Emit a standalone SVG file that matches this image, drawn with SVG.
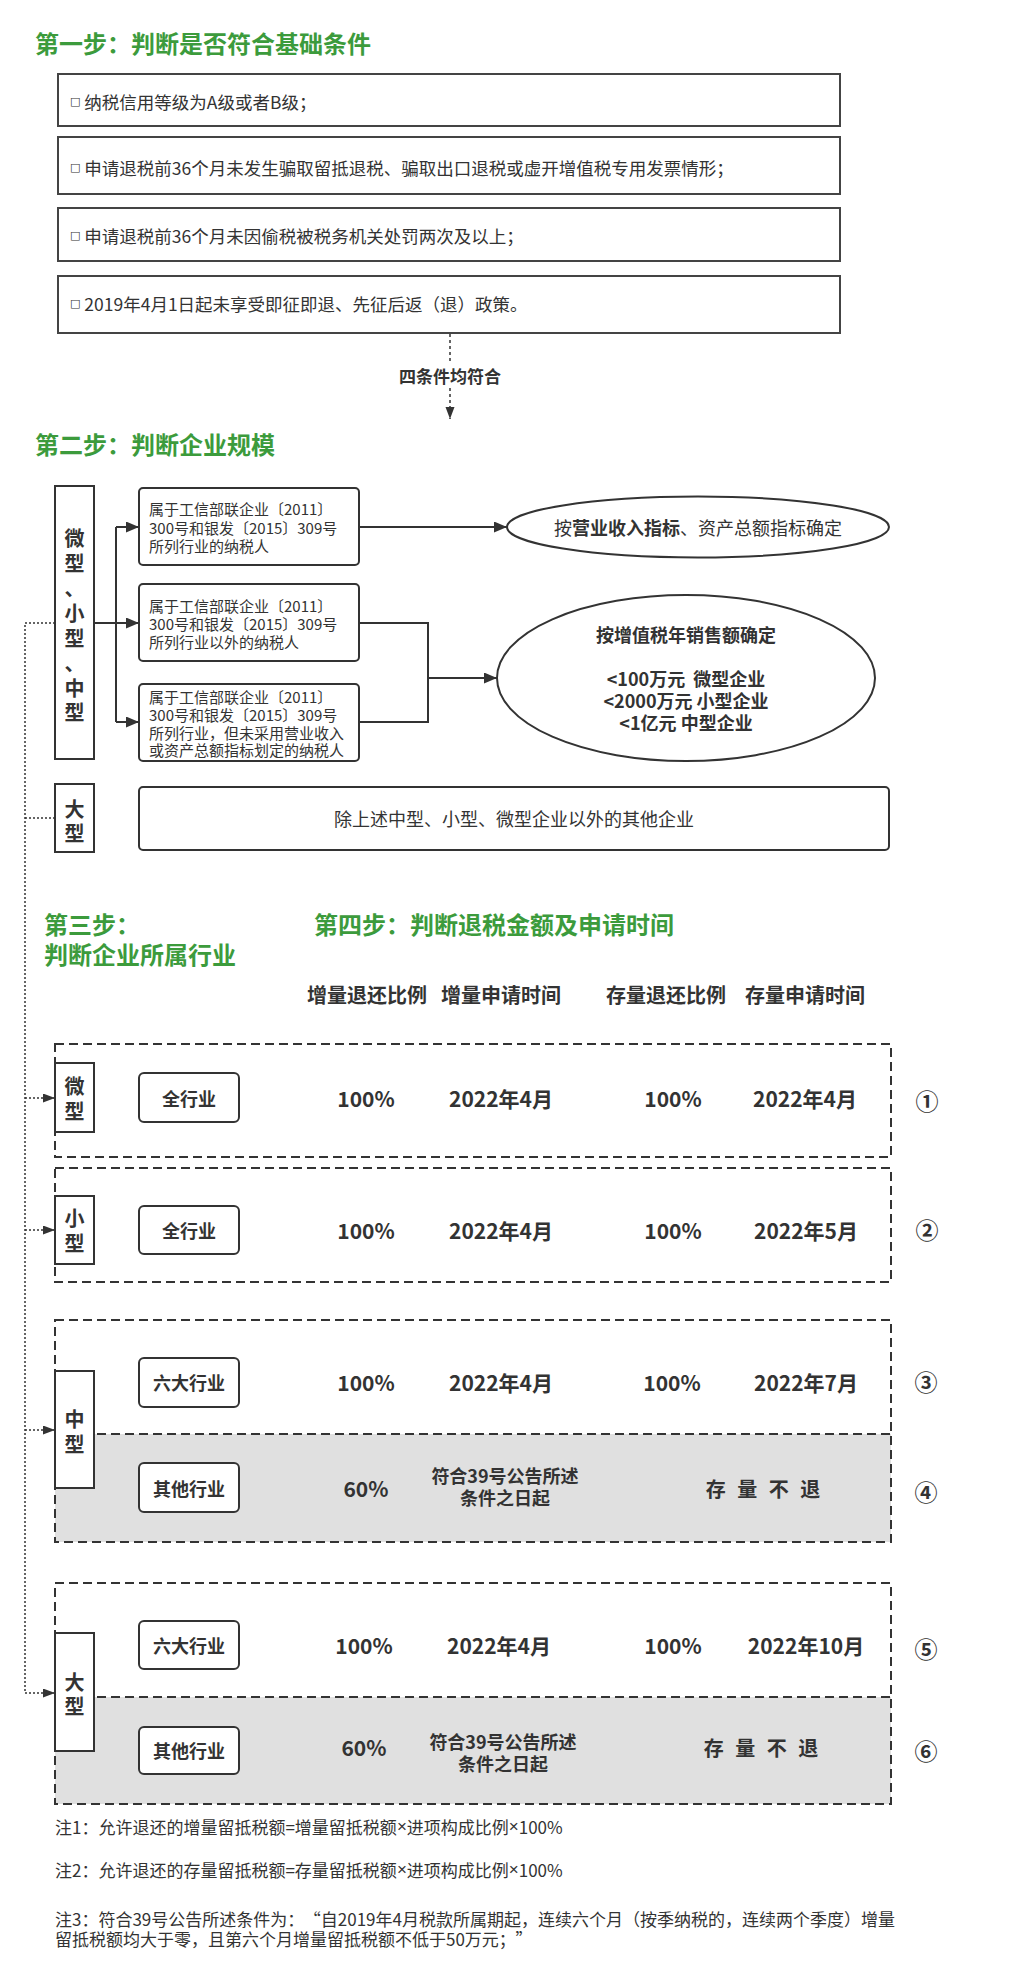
<svg xmlns="http://www.w3.org/2000/svg" width="1010" height="1986" viewBox="0 0 1010 1986">
<style>
text { font-family: "Noto Sans CJK SC", "Noto Sans", sans-serif; fill: #333; dominant-baseline: central; }
.title { font-size: 24px; font-weight: bold; fill: #3c9b3c; }
.s1 { font-size: 17.5px; }
.sq { font-family: "DejaVu Sans", sans-serif; font-size: 11px; }
.sbox { font-size: 15px; }
.b { font-weight: bold; }
.c { text-anchor: middle; }
.f18 { font-size: 18px; }
.f20 { font-size: 20px; }
.val { font-size: 21px; font-weight: bold; text-anchor: middle; }
.num { font-size: 23px; font-weight: bold; text-anchor: middle; }
.note { font-size: 17px; }
.x { font-family: "Liberation Sans", sans-serif; }
.box { fill: #fff; stroke: #333; stroke-width: 2; }
.box1 { fill: #fff; stroke: #444; stroke-width: 2; }
.dash { fill: none; stroke: #333; stroke-width: 2; stroke-dasharray: 9 5; }
.gray { fill: #e0e0e0; stroke: none; }
.line { fill: none; stroke: #333; stroke-width: 2; }
.dot { fill: none; stroke: #333; stroke-width: 1.5; stroke-dasharray: 2 2; }
.dsh { fill: none; stroke: #333; stroke-width: 1.5; stroke-dasharray: 3 3; }
</style>
<defs>
<marker id="ah" markerUnits="userSpaceOnUse" markerWidth="14" markerHeight="11" refX="13" refY="5.5" orient="auto">
<path d="M0,0 L13,5.5 L0,11 z" fill="#333"/>
</marker>
<marker id="ahs" markerUnits="userSpaceOnUse" markerWidth="13" markerHeight="10" refX="12" refY="4.5" orient="auto">
<path d="M0,0 L12,4.5 L0,9 z" fill="#333"/>
</marker>
</defs>
<rect width="1010" height="1986" fill="#fff"/>

<!-- Titles -->
<g id="titles">
<text class="title" x="35" y="42">第一步：判断是否符合基础条件</text>
<text class="title" x="35" y="443">第二步：判断企业规模</text>
<text class="title" x="44" y="923">第三步：</text>
<text class="title" x="44" y="953">判断企业所属行业</text>
<text class="title" x="314" y="923">第四步：判断退税金额及申请时间</text>
</g>

<!-- Step 1 -->
<g id="cond1">
<rect class="box1" x="58" y="74" width="782" height="52"/>
<text class="s1" x="70" y="101"><tspan class="sq">□</tspan> 纳税信用等级为A级或者B级；</text>
</g>
<g id="cond2">
<rect class="box1" x="58" y="137" width="782" height="57"/>
<text class="s1" x="70" y="167"><tspan class="sq">□</tspan> 申请退税前36个月未发生骗取留抵退税、骗取出口退税或虚开增值税专用发票情形；</text>
</g>
<g id="cond3">
<rect class="box1" x="58" y="208" width="782" height="53"/>
<text class="s1" x="70" y="235"><tspan class="sq">□</tspan> 申请退税前36个月未因偷税被税务机关处罚两次及以上；</text>
</g>
<g id="cond4">
<rect class="box1" x="58" y="276" width="782" height="57"/>
<text class="s1" x="70" y="303"><tspan class="sq">□</tspan> 2019年4月1日起未享受即征即退、先征后返（退）政策。</text>
</g>

<!-- Step 2 -->
<g id="smeBox">
<rect class="box" x="55" y="486" width="39" height="273"/>
<text class="f20 b c" x="74.5" y="537">微</text>
<text class="f20 b c" x="74.5" y="562">型</text>
<text class="f20 b c" x="74.5" y="587">、</text>
<text class="f20 b c" x="74.5" y="612">小</text>
<text class="f20 b c" x="74.5" y="637">型</text>
<text class="f20 b c" x="74.5" y="662">、</text>
<text class="f20 b c" x="74.5" y="687">中</text>
<text class="f20 b c" x="74.5" y="711">型</text>
</g>
<g id="bigBox">
<rect class="box" x="55" y="784" width="39" height="68"/>
<text class="f20 b c" x="74.5" y="808">大</text>
<text class="f20 b c" x="74.5" y="832">型</text>
</g>
<g id="catA">
<rect class="box" x="139" y="488" width="220" height="77" rx="4"/>
<text class="sbox" x="149" y="508">属于工信部联企业〔2011〕</text>
<text class="sbox" x="149" y="527">300号和银发〔2015〕309号</text>
<text class="sbox" x="149" y="545">所列行业的纳税人</text>
</g>
<g id="catB">
<rect class="box" x="139" y="584" width="220" height="77" rx="4"/>
<text class="sbox" x="149" y="605">属于工信部联企业〔2011〕</text>
<text class="sbox" x="149" y="623">300号和银发〔2015〕309号</text>
<text class="sbox" x="149" y="641">所列行业以外的纳税人</text>
</g>
<g id="catC">
<rect class="box" x="139" y="684" width="220" height="77" rx="4"/>
<text class="sbox" x="149" y="696">属于工信部联企业〔2011〕</text>
<text class="sbox" x="149" y="714">300号和银发〔2015〕309号</text>
<text class="sbox" x="149" y="732">所列行业，但未采用营业收入</text>
<text class="sbox" x="149" y="749">或资产总额指标划定的纳税人</text>
</g>
<g id="ellipse1">
<ellipse cx="698" cy="527" rx="191" ry="30.5" fill="#fff" stroke="#333" stroke-width="2"/>
<text class="f18 c" x="698" y="527">按<tspan class="b">营业收入指标</tspan>、资产总额指标确定</text>
</g>
<g id="ellipse2">
<ellipse cx="686" cy="678" rx="189" ry="83" fill="#fff" stroke="#333" stroke-width="2"/>
<text class="f18 b c" x="686" y="634">按增值税年销售额确定</text>
<text class="f18 b c" x="686" y="678" xml:space="preserve">&lt;100万元  微型企业</text>
<text class="f18 b c" x="686" y="700">&lt;2000万元 小型企业</text>
<text class="f18 b c" x="686" y="722">&lt;1亿元 中型企业</text>
</g>
<g id="otherBox">
<rect class="box" x="139" y="787" width="750" height="63" rx="4"/>
<text class="f18 c" x="514" y="818">除上述中型、小型、微型企业以外的其他企业</text>
</g>

<!-- Step 3/4 headers -->
<g id="headers">
<text class="f20 b c" x="367" y="994">增量退还比例</text>
<text class="f20 b c" x="501" y="994">增量申请时间</text>
<text class="f20 b c" x="666" y="994">存量退还比例</text>
<text class="f20 b c" x="805" y="994">存量申请时间</text>
</g>

<!-- Row groups -->
<g id="row1">
<rect class="dash" x="55" y="1044" width="836" height="113"/>
<rect class="box" x="55" y="1063" width="39" height="69"/>
<text class="f20 b c" x="74.5" y="1085">微</text>
<text class="f20 b c" x="74.5" y="1110">型</text>
<rect class="box" x="139" y="1073" width="100" height="49" rx="5"/>
<text class="f18 b c" x="189" y="1098">全行业</text>
<text class="val" x="366" y="1098">100%</text>
<text class="val" x="501" y="1098">2022年4月</text>
<text class="val" x="673" y="1098">100%</text>
<text class="val" x="805" y="1098">2022年4月</text>
<text class="num" x="927" y="1100">①</text>
</g>
<g id="row2">
<rect class="dash" x="55" y="1168" width="836" height="114"/>
<rect class="box" x="55" y="1196" width="39" height="68"/>
<text class="f20 b c" x="74.5" y="1217">小</text>
<text class="f20 b c" x="74.5" y="1242">型</text>
<rect class="box" x="139" y="1206" width="100" height="48" rx="5"/>
<text class="f18 b c" x="189" y="1230">全行业</text>
<text class="val" x="366" y="1230">100%</text>
<text class="val" x="501" y="1230">2022年4月</text>
<text class="val" x="673" y="1230">100%</text>
<text class="val" x="806" y="1230">2022年5月</text>
<text class="num" x="927" y="1229">②</text>
</g>
<g id="row34">
<rect class="gray" x="55" y="1434" width="836" height="108"/>
<rect class="dash" x="55" y="1320" width="836" height="222"/>
<line class="dash" x1="55" y1="1434" x2="891" y2="1434"/>
<rect class="box" x="55" y="1371" width="39" height="117"/>
<text class="f20 b c" x="74.5" y="1418">中</text>
<text class="f20 b c" x="74.5" y="1443">型</text>
<rect class="box" x="139" y="1358" width="100" height="49" rx="5"/>
<text class="f18 b c" x="189" y="1382">六大行业</text>
<text class="val" x="366" y="1382">100%</text>
<text class="val" x="501" y="1382">2022年4月</text>
<text class="val" x="672" y="1382">100%</text>
<text class="val" x="806" y="1382">2022年7月</text>
<text class="num" x="926" y="1381">③</text>
<rect class="box" x="139" y="1463" width="100" height="49" rx="5"/>
<text class="f18 b c" x="189" y="1488">其他行业</text>
<text class="val" x="366" y="1488">60%</text>
<text class="f18 b c" x="505" y="1475">符合39号公告所述</text>
<text class="f18 b c" x="505" y="1497">条件之日起</text>
<text class="val" x="763" y="1488" style="font-size:20px;word-spacing:7px">存 量 不 退</text>
<text class="num" x="926" y="1491">④</text>
</g>
<g id="row56">
<rect class="gray" x="55" y="1697" width="836" height="107"/>
<rect class="dash" x="55" y="1583" width="836" height="221"/>
<line class="dash" x1="55" y1="1697" x2="891" y2="1697"/>
<rect class="box" x="55" y="1633" width="39" height="118"/>
<text class="f20 b c" x="74.5" y="1681">大</text>
<text class="f20 b c" x="74.5" y="1705">型</text>
<rect class="box" x="139" y="1621" width="100" height="48" rx="5"/>
<text class="f18 b c" x="189" y="1645">六大行业</text>
<text class="val" x="364" y="1645">100%</text>
<text class="val" x="499" y="1645">2022年4月</text>
<text class="val" x="673" y="1645">100%</text>
<text class="val" x="806" y="1645">2022年10月</text>
<text class="num" x="926" y="1648">⑤</text>
<rect class="box" x="139" y="1727" width="100" height="47" rx="5"/>
<text class="f18 b c" x="189" y="1750">其他行业</text>
<text class="val" x="364" y="1747">60%</text>
<text class="f18 b c" x="503" y="1741">符合39号公告所述</text>
<text class="f18 b c" x="503" y="1763">条件之日起</text>
<text class="val" x="761" y="1747" style="font-size:20px;word-spacing:7px">存 量 不 退</text>
<text class="num" x="926" y="1750">⑥</text>
</g>

<!-- Connectors -->
<g id="connectors">
<line class="dsh" x1="450" y1="334" x2="450" y2="362"/>
<line class="dsh" x1="450" y1="388" x2="450" y2="419" marker-end="url(#ahs)"/>
<text class="b c" style="font-size:17px" x="450" y="375">四条件均符合</text>
<path class="line" d="M94,623 H116"/>
<path class="line" d="M116,527 V722"/>
<path class="line" d="M116,527 H139" marker-end="url(#ah)"/>
<path class="line" d="M116,623 H139" marker-end="url(#ah)"/>
<path class="line" d="M116,722 H139" marker-end="url(#ah)"/>
<path class="line" d="M359,527 H507" marker-end="url(#ah)"/>
<path class="line" d="M359,623 H428 V722 H359"/>
<path class="line" d="M428,678 H497" marker-end="url(#ah)"/>
<path class="dot" d="M55,623 H25 V1693"/>
<path class="dot" d="M25,818 H55"/>
<path class="dot" d="M25,1098 H55" marker-end="url(#ahs)"/>
<path class="dot" d="M25,1230 H55" marker-end="url(#ahs)"/>
<path class="dot" d="M25,1430 H55" marker-end="url(#ahs)"/>
<path class="dot" d="M25,1693 H55" marker-end="url(#ahs)"/>
</g>

<!-- Notes -->
<g id="notes">
<text class="note" x="55" y="1826">注1：允许退还的增量留抵税额=增量留抵税额<tspan class="x">×</tspan>进项构成比例<tspan class="x">×</tspan>100%</text>
<text class="note" x="55" y="1869">注2：允许退还的存量留抵税额=存量留抵税额<tspan class="x">×</tspan>进项构成比例<tspan class="x">×</tspan>100%</text>
<text class="note" x="55" y="1918">注3：符合39号公告所述条件为：<tspan dx="8">“</tspan>自2019年4月税款所属期起，连续六个月（按季纳税的，连续两个季度）增量</text>
<text class="note" x="55" y="1938">留抵税额均大于零，且第六个月增量留抵税额不低于50万元；<tspan dx="8">”</tspan></text>
</g>
</svg>
